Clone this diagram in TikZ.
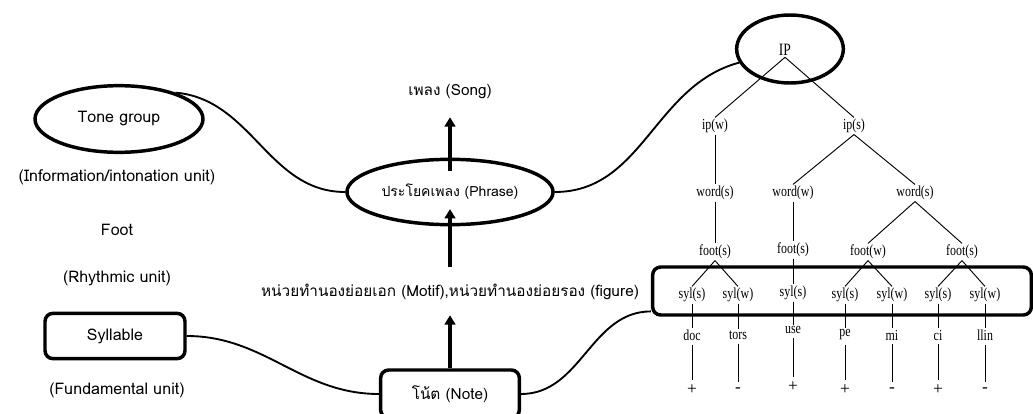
\documentclass[tikz,border=0pt]{standalone}
\usepackage{fontspec}
\setmainfont{Liberation Serif}
\newfontfamily\thaifont[Script=Thai]{Loma}
\newfontfamily\treefont[FakeStretch=0.78]{Liberation Serif}
\usetikzlibrary{shapes.geometric,arrows.meta}

\begin{document}
\begin{tikzpicture}[x=0.75pt,y=-0.75pt,
  lab/.style={font=\thaifont\fontsize{12}{14}\selectfont},
  thl/.style={font=\thaifont\fontsize{11.5}{14}\selectfont},
  tr/.style={font=\treefont\fontsize{11.5}{13}\selectfont, inner sep=1pt},
  sign/.style={font=\fontsize{13}{14}\selectfont, inner sep=1pt},
  oval/.style={ellipse, draw, line width=2.6pt},
  rbox/.style={draw, rounded corners=6pt, line width=2.6pt},
  link/.style={line width=1.4pt},
  up/.style={line width=3pt, -{Triangle[length=7pt,width=8pt]}},
  br/.style={line width=0.7pt}]

  \clip (0,0) rectangle (1033,414);

  % Left column
  \node[oval, lab, minimum width=126pt, minimum height=50pt] (tone) at (119,119) {Tone group};
  \node[lab] (info) at (117,177) {(Information/intonation unit)};
  \node[lab] (foot) at (117,230) {Foot};
  \node[lab] (rhythm) at (117,278) {(Rhythmic unit)};
  \node[rbox, lab, minimum width=105pt, minimum height=34pt] (syll) at (115,336) {Syllable};
  \node[lab] (fund) at (117,390) {(Fundamental unit)};

  % Middle column
  \node[thl] (song) at (450,92) {เพลง (Song)};
  \node[oval, thl, font=\thaifont\fontsize{10.5}{12}\selectfont, minimum width=144pt, minimum height=49pt] (phrase) at (450,192) {ประโยคเพลง (Phrase)};
  \node[thl] (motif) at (450,292) {หน่วยทำนองย่อยเอก (Motif),หน่วยทำนองย่อยรอง (figure)};
  \node[rbox, thl, minimum width=104pt, minimum height=36pt] (note) at (450,394) {โน้ต (Note)};

  % Arrows
  \draw[up] ([yshift=-10pt]phrase.north) -- ([yshift=-10pt]song.south);
  \draw[up] ([yshift=9pt]motif.north) -- ([yshift=13pt]phrase.south);
  \draw[up] (note.north) -- ([yshift=-8pt]motif.south);

  % Tree
  \node[oval, minimum width=80pt, minimum height=51pt] (ipring) at (790,49) {};
  \node[tr, font=\treefont\fontsize{13}{14}\selectfont] (IP) at (785,50) {IP};
  \node[tr] (ipw) at (715,126) {ip(w)};
  \node[tr] (ips) at (854,126) {ip(s)};
  \node[tr] (wd1) at (715,193) {word(s)};
  \node[tr] (wd2) at (793,193) {word(w)};
  \node[tr] (wd3) at (915,193) {word(s)};
  \node[tr] (ft1) at (715,252) {foot(s)};
  \node[tr] (ft2) at (793,250) {foot(s)};
  \node[tr] (ft3) at (868,252) {foot(w)};
  \node[tr] (ft4) at (962,252) {foot(s)};

  \node[rbox, minimum width=284pt, minimum height=36pt] (sylbox) at (842,291) {};

  \node[tr] (sy1) at (692,295) {syl(s)};
  \node[tr] (sy2) at (738,295) {syl(w)};
  \node[tr] (sy3) at (793,293) {syl(s)};
  \node[tr] (sy4) at (845,295) {syl(s)};
  \node[tr] (sy5) at (892,295) {syl(w)};
  \node[tr] (sy6) at (938,295) {syl(s)};
  \node[tr] (sy7) at (985,295) {syl(w)};

  \node[tr] (wo1) at (692,335) {doc};
  \node[tr] (wo2) at (738,335) {tors};
  \node[tr] (wo3) at (793,330) {use};
  \node[tr] (wo4) at (845,335) {pe};
  \node[tr] (wo5) at (892,335) {mi};
  \node[tr] (wo6) at (938,335) {ci};
  \node[tr] (wo7) at (985,335) {llin};

  \node[sign] (pm1) at (692,390) {+};
  \node[sign] (pm2) at (738,390) {-};
  \node[sign] (pm3) at (793,387) {+};
  \node[sign] (pm4) at (845,390) {+};
  \node[sign] (pm5) at (892,390) {-};
  \node[sign] (pm6) at (938,390) {+};
  \node[sign] (pm7) at (985,390) {-};

  \foreach \a/\b in {IP/ipw, IP/ips, ipw/wd1, ips/wd2, ips/wd3, wd1/ft1, wd2/ft2,
      wd3/ft3, wd3/ft4, ft1/sy1, ft1/sy2, ft2/sy3, ft3/sy4, ft3/sy5, ft4/sy6, ft4/sy7}
    \draw[br] (\a.south) -- (\b.north);
  \foreach \i in {1,...,7} {
    \draw[br] (sy\i.south) -- (wo\i.north);
    \draw[br, shorten <=2pt, shorten >=3pt] (wo\i.south) -- (pm\i.north);
  }

  % Links
  \draw[link] (tone.25) to[out=-5,in=180] (phrase.west);
  \draw[link] (syll.east) to[out=0,in=180] (note.west);
  \draw[link] (note.east) to[out=0,in=180] ([yshift=4pt]sylbox.south west);
  \draw[link] (phrase.east) to[out=0,in=195] (ipring.195);

\end{tikzpicture}
\end{document}
